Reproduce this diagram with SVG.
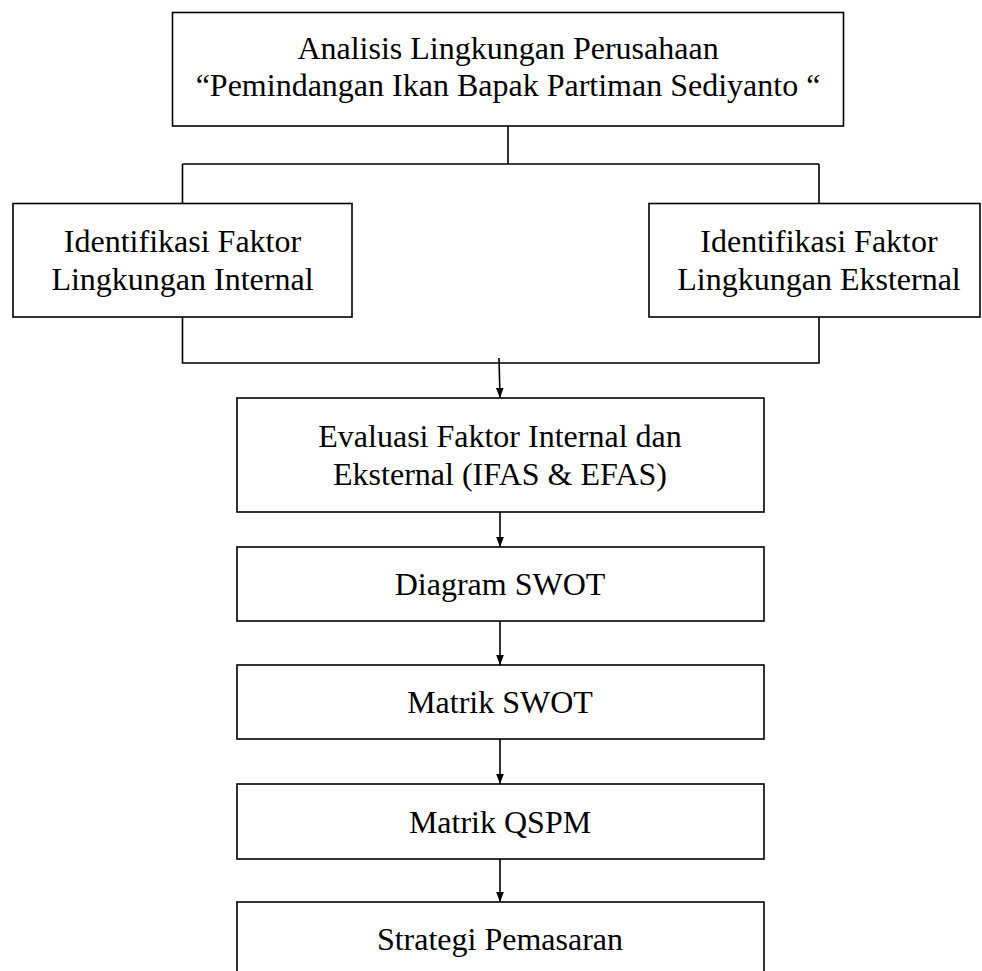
<svg xmlns="http://www.w3.org/2000/svg" width="982" height="971" viewBox="0 0 982 971">
<style>
.box{fill:#fff;stroke:#000;stroke-width:1.6}
.t{font-family:"Liberation Serif","Times New Roman",serif;font-size:32px;fill:#000;text-anchor:middle}
.ln{fill:none;stroke:#000;stroke-width:1.6}
</style>
<defs>
<marker id="arr" markerWidth="10" markerHeight="13" refX="13" refY="5" orient="auto" markerUnits="userSpaceOnUse" viewBox="0 0 13 10">
<path d="M0,0 L13,5 L0,10 Z" fill="#000"/>
</marker>
</defs>
<rect width="982" height="971" fill="#fff"/>
<g id="connectors">
<path class="ln" d="M508,126 V164 M182.5,164 H819 M182.5,164 V203 M819,164 V203"/>
<path class="ln" d="M182.5,317 V363 H819 V317"/>
<line class="ln" x1="499" y1="358" x2="500" y2="398" marker-end="url(#arr)"/>
<line class="ln" x1="500" y1="512" x2="500" y2="547" marker-end="url(#arr)"/>
<line class="ln" x1="500" y1="621" x2="500" y2="665" marker-end="url(#arr)"/>
<line class="ln" x1="500" y1="739" x2="500" y2="784" marker-end="url(#arr)"/>
<line class="ln" x1="500" y1="859" x2="500" y2="902" marker-end="url(#arr)"/>
</g>
<g id="n-analisis">
<rect class="box" x="172.5" y="12.5" width="671" height="113.5"/>
<text class="t" x="508" y="59">Analisis Lingkungan Perusahaan</text>
<text class="t" x="508" y="96">“Pemindangan Ikan Bapak Partiman Sediyanto “</text>
</g>
<g id="n-internal">
<rect class="box" x="13" y="203.5" width="339" height="113.5"/>
<text class="t" x="182.5" y="252">Identifikasi Faktor</text>
<text class="t" x="182.5" y="290">Lingkungan Internal</text>
</g>
<g id="n-eksternal">
<rect class="box" x="649" y="203.5" width="331" height="113.5"/>
<text class="t" x="819" y="252">Identifikasi Faktor</text>
<text class="t" x="819" y="290">Lingkungan Eksternal</text>
</g>
<g id="n-evaluasi">
<rect class="box" x="237" y="398" width="527" height="114"/>
<text class="t" x="500" y="447">Evaluasi Faktor Internal dan</text>
<text class="t" x="500" y="485">Eksternal (IFAS &amp; EFAS)</text>
</g>
<g id="n-diagram">
<rect class="box" x="237" y="547" width="527" height="74"/>
<text class="t" x="500" y="595">Diagram SWOT</text>
</g>
<g id="n-matrikswot">
<rect class="box" x="237" y="665" width="527" height="74"/>
<text class="t" x="500" y="713">Matrik SWOT</text>
</g>
<g id="n-qspm">
<rect class="box" x="237" y="784" width="527" height="75"/>
<text class="t" x="500" y="833">Matrik QSPM</text>
</g>
<g id="n-strategi">
<rect class="box" x="237" y="902" width="527" height="90"/>
<text class="t" x="500" y="950">Strategi Pemasaran</text>
</g>
</svg>
